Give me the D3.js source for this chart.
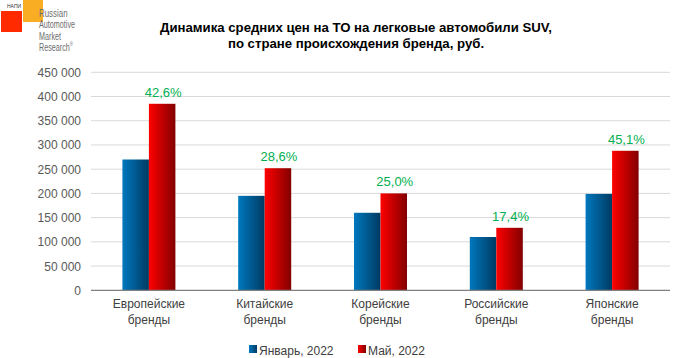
<!DOCTYPE html>
<html><head><meta charset="utf-8">
<script src="https://cdn.jsdelivr.net/npm/d3@7"></script>
<style>body{margin:0;background:#fff}svg{display:block}</style>
</head><body>
<script>
const categories = [["Европейские","бренды"],["Китайские","бренды"],["Корейские","бренды"],["Российские","бренды"],["Японские","бренды"]];
const seriesNames = ["Январь, 2022","Май, 2022"];
const jan2022 = [270000, 195000, 160000, 110000, 199000];
const may2022 = [385000, 252000, 200000, 129000, 288000];
const changeLabels = ["42,6%","28,6%","25,0%","17,4%","45,1%"];
const yTicks = [0,50000,100000,150000,200000,250000,300000,350000,400000,450000];
const titleLines = ["Динамика средних цен на ТО на легковые автомобили SUV,","по стране происхождения бренда, руб."];

const W=687,H=358;
const svg=d3.select("body").append("svg").attr("width",W).attr("height",H);
const defs=svg.append("defs");
function grad(id,c1,c2){const g=defs.append("linearGradient").attr("id",id).attr("x1","0").attr("x2","1").attr("y1","0").attr("y2","0");
g.append("stop").attr("offset","0%").attr("stop-color",c1);g.append("stop").attr("offset","100%").attr("stop-color",c2);}
grad("gBlue","#0078be","#003a62");
grad("gRed","#ff0000","#820000");
const fills=["url(#gBlue)","url(#gRed)"];

const F="'Liberation Sans', Arial, sans-serif";
// logo
const logo=svg.append("g");
logo.append("rect").attr("x",23).attr("y",0).attr("width",20).attr("height",22).attr("fill","#f8ad22");
logo.append("rect").attr("x",1).attr("y",11).attr("width",21).attr("height",21).attr("fill","#ff2a00");
logo.append("text").attr("x",7).attr("y",8).attr("font-size",5).attr("font-family",F).attr("fill","#333").text("НАПИ");
const lt=logo.append("g").attr("transform","translate(39,0) scale(0.72,1)");
["Russian","Automotive","Market","Research"].forEach((t,i)=>{
  const tx=lt.append("text").attr("x",0).attr("y",[17,28.5,40,51.5][i]).attr("font-size",i===0?11:10).attr("font-family",F).attr("fill","#6e6e6e").text(t);
  if(i===3) tx.append("tspan").attr("font-size",6).attr("dy",-5).text("®");
});

// title
svg.append("g").selectAll("text").data(titleLines).join("text")
  .attr("x",356).attr("y",(d,i)=>32+i*16).attr("text-anchor","middle")
  .attr("font-family",F).attr("font-weight","bold").attr("font-size",13.2).attr("fill","#000").text(d=>d);

const x0=d3.scaleBand().domain(d3.range(categories.length)).range([91,670]);
const bw=26.5;
const y=d3.scaleLinear().domain([0,450000]).range([290.3,72.3]);

// gridlines
svg.append("g").selectAll("line").data(yTicks.filter(d=>d>0)).join("line")
  .attr("x1",91).attr("x2",670).attr("y1",d=>y(d)).attr("y2",d=>y(d))
  .attr("stroke","#d9d9d9").attr("stroke-width",1);

// y labels
const fmt=d=>d===0?"0":d3.format(",")(d).replace(/,/g," ");
svg.append("g").selectAll("text").data(yTicks).join("text")
  .attr("x",81).attr("y",d=>y(d)+4.5).attr("text-anchor","end")
  .attr("font-family",F).attr("font-size",12).attr("fill","#595959").text(fmt);

// bars
const series=[jan2022,may2022];
series.forEach((s,si)=>{
  svg.append("g").selectAll("rect").data(s).join("rect")
    .attr("x",(d,i)=>x0(i)+x0.bandwidth()/2-bw+si*bw)
    .attr("width",bw).attr("y",d=>y(d)).attr("height",d=>y(0)-y(d))
    .attr("fill",fills[si]);
});

// change labels
svg.append("g").selectAll("text").data(changeLabels).join("text")
  .attr("x",(d,i)=>x0(i)+x0.bandwidth()/2+bw/2+1).attr("y",(d,i)=>y(may2022[i])-7)
  .attr("text-anchor","middle").attr("font-family",F).attr("font-size",13).attr("fill","#00b050").text(d=>d);

// baseline
svg.append("line").attr("x1",91).attr("x2",670).attr("y1",y(0)).attr("y2",y(0)).attr("stroke","#808080").attr("stroke-width",1.3);

// category labels
const cg=svg.append("g").selectAll("text").data(categories).join("text")
  .attr("text-anchor","middle").attr("font-family",F).attr("font-size",12).attr("fill","#404040");
cg.each(function(d,i){
  const t=d3.select(this);
  d.forEach((line,li)=>t.append("tspan").attr("x",x0(i)+x0.bandwidth()/2).attr("y",308+li*16).text(line));
});

// legend
const leg=[{x:249,name:seriesNames[0],f:fills[0]},{x:358,name:seriesNames[1],f:fills[1]}];
leg.forEach(l=>{
  svg.append("rect").attr("x",l.x).attr("y",345).attr("width",8).attr("height",8).attr("fill",l.f);
  svg.append("text").attr("x",l.x+10).attr("y",355).attr("font-family",F).attr("font-size",12).attr("fill","#404040").text(l.name);
});
</script>
</body></html>
